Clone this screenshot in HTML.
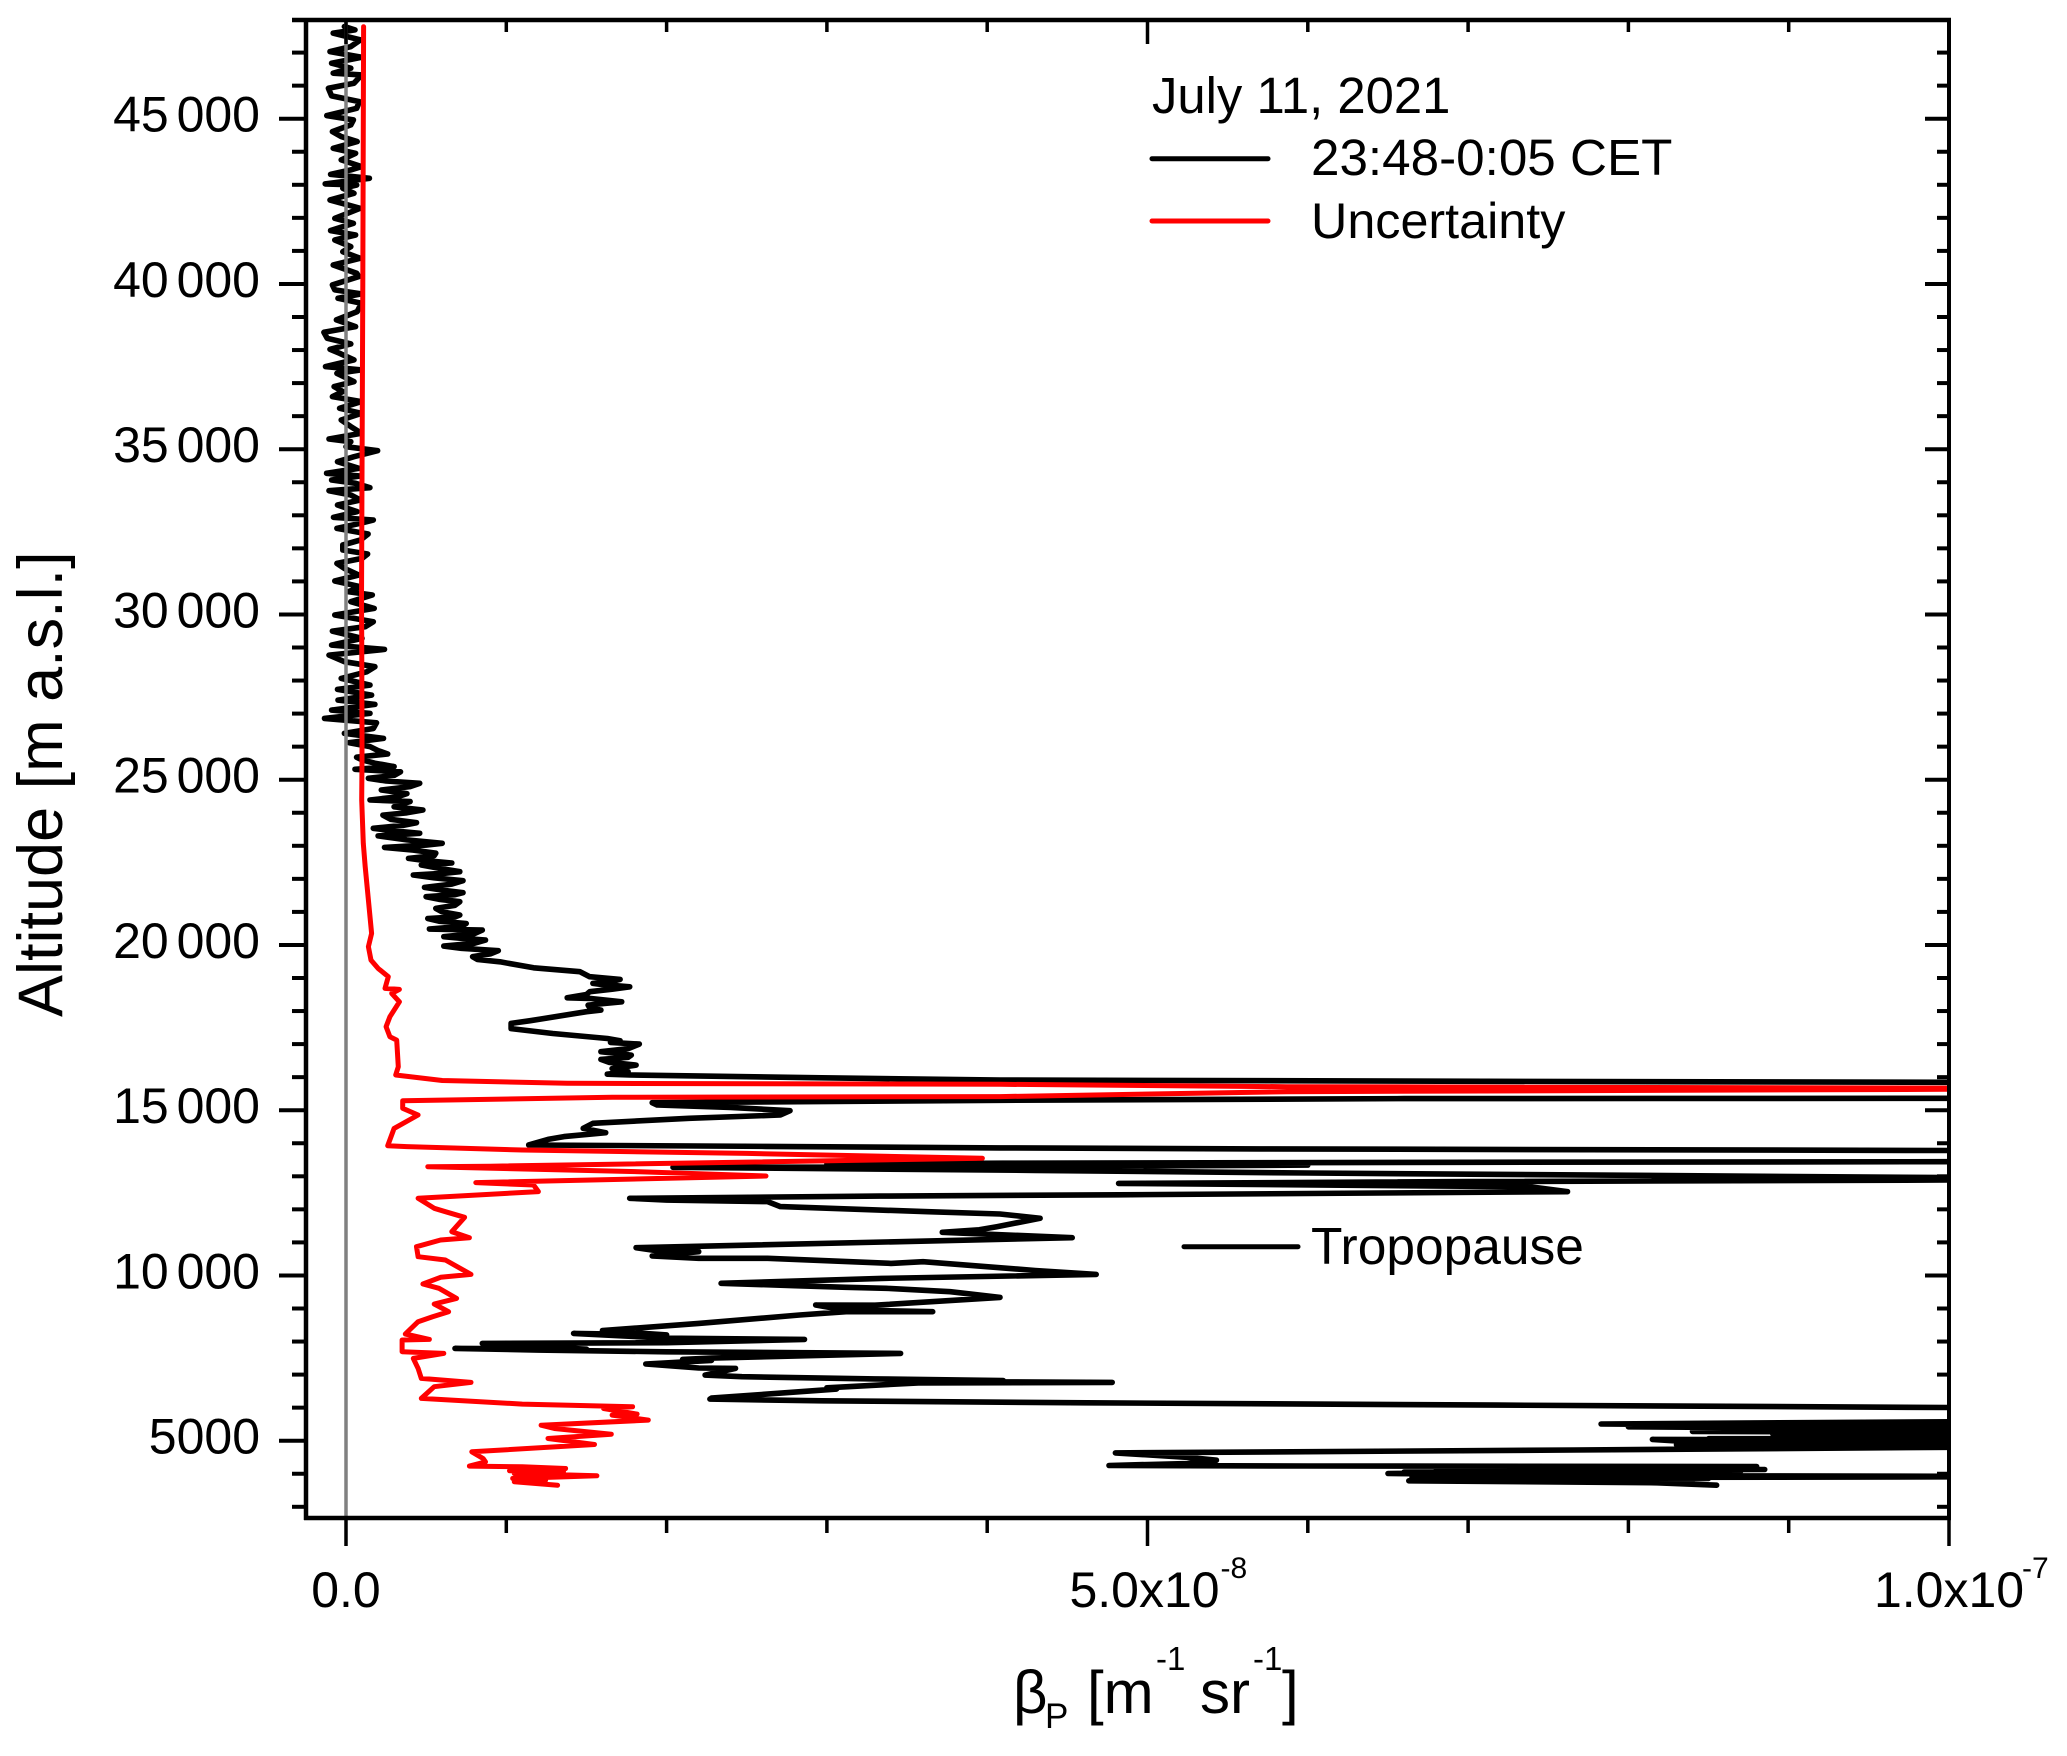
<!DOCTYPE html>
<html lang="en">
<head>
<meta charset="utf-8">
<title>Backscatter profile</title>
<style>
html,body{margin:0;padding:0;background:#fff;}
#wrap{width:2067px;height:1756px;position:relative;overflow:hidden;}
svg{display:block;}
text{font-family:"Liberation Sans",Arial,sans-serif;fill:#000;}
</style>
</head>
<body>
<div id="wrap">
<svg id="chart" width="2067" height="1756" viewBox="0 0 2067 1756">
<defs><clipPath id="plotClip"><rect x="306" y="20" width="1643" height="1498"/></clipPath></defs>
<g id="series" clip-path="url(#plotClip)"></g>
<g id="axes"></g>
<g id="labels"></g>

<text x="62" y="1017" font-size="63" transform="rotate(-90 62 1017)">Altitude [m a.s.l.]</text>

<g>
<text x="1013" y="1713" font-size="60">β</text>
<text x="1045" y="1728" font-size="35">P</text>
<text x="1087" y="1713" font-size="60">[m</text>
<text x="1156" y="1670" font-size="33">-1</text>
<text x="1200" y="1713" font-size="60">sr</text>
<text x="1253" y="1670" font-size="33">-1</text>
<text x="1282" y="1713" font-size="60">]</text>
</g>

<g>
<text x="1152" y="113" font-size="50.8">July 11, 2021</text>
<line x1="1152" y1="158.7" x2="1268" y2="158.7" stroke="#000" stroke-width="5" stroke-linecap="round"/>
<text x="1311" y="175" font-size="51.2">23:48-0:05 CET</text>
<line x1="1152" y1="221" x2="1268" y2="221" stroke="#f00" stroke-width="5" stroke-linecap="round"/>
<text x="1311" y="238" font-size="50.3">Uncertainty</text>
</g>

<g>
<line x1="1184" y1="1246.7" x2="1298" y2="1246.7" stroke="#000" stroke-width="5" stroke-linecap="round"/>
<text x="1311" y="1264" font-size="51.5">Tropopause</text>
</g>
</svg>
</div>
<script>
// Axis ticks and labels (beta in units of 1e-8 m-1 sr-1, altitude in m)
var xMajorTicks = [0, 5, 10];
var xMinorTicks = [1, 2, 3, 4, 6, 7, 8, 9];
var xTickLabels = ["0.0", "5.0x10", "1.0x10"];
var xTickExponents = ["", "-8", "-7"];
var yMajorTicks = [5000, 10000, 15000, 20000, 25000, 30000, 35000, 40000, 45000];
var yTickLabels = ["5000", "10 000", "15 000", "20 000", "25 000", "30 000", "35 000", "40 000", "45 000"];
var yMinorTicks = [3000, 4000, 6000, 7000, 8000, 9000, 11000, 12000, 13000, 14000, 16000, 17000, 18000, 19000, 21000, 22000, 23000, 24000, 26000, 27000, 28000, 29000, 31000, 32000, 33000, 34000, 36000, 37000, 38000, 39000, 41000, 42000, 43000, 44000, 46000, 47000];

// Measured profile: [beta, altitude]
var profileBeta = [
[8.55,3655],[8.18,3725],[6.63,3786],[8.4,3810],[6.65,3835],[8.5,3860],[6.65,3880],[8.9,3895],[11,3915],[8.0,3945],[6.5,4007],[8.6,4030],[6.6,4050],[8.7,4075],[6.8,4095],[8.85,4130],[7.0,4150],[8.8,4175],[7.2,4195],[8.8,4220],[6.0,4235],[4.76,4250],
[5.25,4310],[5.43,4410],[5.27,4490],[4.8,4630],[7.66,4720],[10,4800],[11,4830],[8.3,4880],[11,4900],[8.7,4930],[11,4960],[8.3,4990],[8.15,5040],[9.5,5025],[8.5,5060],[11,5070],[9.0,5120],[11,5170],[8.9,5210],[11,5240],[8.4,5280],[11,5320],[8.0,5420],[10,5450],[7.83,5505],[11,5605],
[11,5990],[10,6005],[7.18,6076],[4.62,6147],[2.97,6207],[2.27,6258],[2.28,6290],[3.06,6560],[3.0,6600],[3.57,6750],[4.78,6764],[3.57,6790],[4.1,6820],[3.3,6870],[2.47,6936],[2.24,6986],[2.43,7188],[2.2,7200],[1.87,7320],[2.28,7430],[2.1,7460],[2.28,7500],[3.46,7642],[2.0,7690],[1.2,7740],[0.68,7793],[1.5,7770],[1.17,7844],[0.85,7945],[2.0,7965],[2.86,8066],[2.0,8100],[1.42,8248],[2.0,8200],[1.6,8330],[2.2,8550],[2.83,8803],[3.12,8903],[3.66,8903],[3.1,8960],[2.93,9105],[3.3,9100],[4.08,9337],[3.77,9509],[3.37,9610],[3.12,9640],[2.8,9690],[2.34,9761],[3.34,9912],[4.68,10033],[4.3,10150],[3.6,10417],[3.4,10366],[2.63,10518],[2.2,10518],[1.91,10588],[2.2,10720],[1.95,10740],[1.81,10840],[4.53,11143],[3.72,11305],[3.95,11380],[4.06,11476],[4.33,11729],[4.08,11860],[3.63,11930],[2.71,12082],[2.63,12233],[2.0,12280],[1.77,12334],[3.33,12400],[4.82,12440],[7.62,12534],[7.38,12685],[4.82,12786],[7.0,12840],[10,12887],[11,12895],
[11,12930],[10,12960],[6.0,13100],[4.3,13180],[2.04,13271],[4.08,13290],[6,13340],[3,13370],[4.1,13395],[7,13425],[10,13442],[11,13450],
[11,13760],[10,13780],[5.7,13830],[4.08,13860],[2.62,13905],[1.14,13947],[1.26,14118],[1.36,14200],[1.62,14320],[1.48,14450],[1.54,14603],[2.14,14754],[2.71,14855],[2.77,14986],[2.4,15086],[1.94,15157],[1.91,15228],[4.08,15300],[6.6,15350],[10,15359],[11,15370],
[11,15835],[10,15843],[7.1,15875],[4.08,15914],[2.97,15980],[1.77,16065],[1.63,16090],[1.76,16163],[1.66,16260],[1.81,16364],[1.64,16450],[1.59,16536],[1.76,16600],[1.78,16667],[1.59,16770],[1.76,16860],[1.83,17000],[1.65,17050],[1.71,17100],[1.63,17170],[1.29,17320],[1.03,17470],[1.03,17625],[1.15,17707],[1.5,17980],[1.59,18030],[1.52,18100],[1.51,18180],[1.62,18230],[1.72,18280],[1.52,18383],[1.38,18400],[1.5,18500],[1.52,18584],[1.66,18660],[1.77,18735],[1.6,18800],[1.54,18836],[1.66,18900],[1.71,18958],[1.52,19038],[1.46,19190],[1.17,19310],[0.96,19490],[0.82,19560],[0.79,19644],[0.9,19730],[0.95,19825],[0.72,19900],[0.61,19966],[0.8,20050],[0.87,20148],[0.72,20200],[0.61,20250],[0.8,20340],[0.85,20450],[0.52,20480],[0.72,20560],[0.75,20650],[0.58,20720],[0.51,20800],[0.68,20850],[0.71,20905],[0.6,21000],[0.56,21107],[0.68,21200],[0.71,21310],[0.58,21380],[0.5,21460],[0.68,21520],[0.73,21580],[0.6,21660],[0.49,21742],[0.66,21840],[0.73,21944],[0.55,22030],[0.42,22116],[0.62,22170],[0.71,22217],[0.58,22320],[0.47,22418],[0.66,22480],[0.5,22550],[0.39,22620],[0.55,22700],[0.56,22780],[0.42,22870],[0.24,22953],[0.5,23020],[0.6,23075],[0.38,23180],[0.2,23300],[0.46,23377],[0.3,23450],[0.17,23530],[0.36,23620],[0.44,23700],[0.28,23800],[0.23,23930],[0.38,24000],[0.48,24083],[0.3,24180],[0.36,24280],[0.4,24336],[0.15,24386],[0.32,24480],[0.38,24580],[0.22,24689],[0.4,24790],[0.46,24890],[0.25,24960],[0.14,25042],[0.3,25130],[0.34,25240],[0.056,25314],[0.3,25395],[0.18,25500],[0.1,25600],[0.066,25680],[0.26,25778],[0.2,25880],[0.15,26000],[0.02,26120],
[0.234,26249],[-0.01,26400],[0.17,26550],[0.19,26723],[-0.134,26854],[0.15,27005],[-0.09,27106],[0.18,27278],[-0.05,27409],[0.16,27560],[-0.053,27732],[0.15,27863],[-0.03,28065],[0.13,28266],[0.18,28418],[-0.01,28570],[-0.106,28771],[0.24,28943],[-0.09,29074],[0.1,29276],[-0.085,29497],[0.12,29629],[0.17,29780],[-0.07,29982],[0.176,30184],[0.03,30385],[0.164,30587],[0.015,30688],[0.09,30840],[-0.07,31011],[0.08,31193],[-0.01,31394],[-0.057,31546],[0.1,31697],[0.135,31829],[-0.02,31949],[-0.02,32101],[0.09,32252],[0.138,32434],[-0.057,32605],[0.09,32757],[0.17,32857],[-0.078,32938],[0.07,33110],[-0.053,33311],[0.09,33463],[0.03,33614],[-0.106,33745],[0.149,33836],[0.06,33967],[-0.09,34068],[0.09,34190],[-0.121,34270],[0.08,34421],[-0.053,34623],[0.05,34774],[0.197,34956],[0.0,35077],[0.03,35228],[-0.106,35309],[0.096,35481],[0.03,35683],[-0.03,35885],[0.096,36086],[-0.04,36238],[0.096,36440],[-0.085,36591],[-0.02,36742],[-0.074,36893],[0.05,37045],[-0.057,37297],[0.096,37398],[-0.128,37499],[0.05,37701],[-0.04,37902],[-0.1,38024],[0.03,38185],[-0.117,38357],[-0.138,38538],[0.06,38710],[-0.06,38911],[0.07,39164],[0.096,39416],[-0.05,39567],[0.096,39699],[-0.07,39820],[-0.085,39971],[0.08,40223],[0.067,40322],
[-0.08,40574],[0.088,40776],[-0.02,40977],[0.03,41129],[-0.07,41330],[0.06,41482],[-0.096,41613],[0.046,41835],[-0.07,41986],[0.01,42138],[0.088,42289],[-0.1,42541],[0.05,42743],[-0.02,42894],[0.067,42995],[-0.13,43026],[0.146,43197],[-0.096,43318],[0.03,43450],[0.098,43550],[-0.03,43752],[0.06,43954],[-0.08,44105],[0.07,44307],[-0.03,44459],[-0.085,44610],[0.03,44812],[0.046,44963],[-0.12,45094],[0.067,45316],[0.083,45518],[-0.09,45689],[-0.11,45921],[0.05,46073],[0.098,46325],[-0.08,46376],[0.03,46527],[-0.09,46678],[0.098,46860],[-0.1,47031],[0.03,47183],[0.09,47385],[-0.08,47586],[0.056,47687],[-0.01,47788]
];

// Uncertainty profile: [beta, altitude]
var uncertaintyBeta = [
[1.32,3655],[1.05,3755],[1.245,3806],[1.04,3856],[1.565,3937],[1.05,4008],[1.357,4058],[1.02,4088],[1.37,4160],[1.1,4210],[0.77,4230],[0.87,4360],[0.855,4460],[0.785,4663],[1.55,4885],[1.26,5067],[1.655,5198],[1.3,5370],[1.217,5470],[1.886,5622],[1.66,5775],[1.816,5804],[1.607,5975],[1.788,6026],[1.1,6106],[0.47,6280],[0.55,6633],[0.78,6764],[0.47,6885],[0.45,7188],[0.42,7491],[0.61,7642],[0.35,7693],[0.35,8046],[0.52,8066],[0.37,8227],[0.45,8601],[0.54,8752],[0.64,8903],[0.55,9136],[0.69,9307],[0.58,9610],[0.48,9741],[0.59,9943],[0.78,10033],[0.62,10467],[0.45,10568],[0.44,10871],[0.59,11073],[0.77,11143],[0.66,11325],[0.74,11759],[0.62,11930],[0.55,12031],[0.45,12334],[1.2,12536],[1.17,12738],[0.81,12808],[2.62,13008],[1.83,13140],[0.51,13291],[0.9,13305],[3.97,13544],[2.5,13694],[1.1,13795],[0.38,13900],[0.26,13926],[0.3,14450],[0.45,14855],[0.354,15056],[0.354,15288],[1.66,15390],[4.08,15410],[5.87,15560],[10,15632],[11,15640],
[11,15660],[10,15670],[5.87,15712],[4.08,15783],[1.38,15813],[0.6,15900],[0.31,16065],[0.326,16314],[0.316,17121],[0.274,17222],[0.25,17525],[0.274,17828],[0.333,18281],[0.285,18534],[0.333,18655],[0.243,18685],[0.264,19038],[0.2,19290],[0.156,19543],[0.14,19946],[0.16,20350],[0.14,21360],[0.12,22368],[0.108,23075],[0.098,24386],[0.1,25597],[0.1,26400],[0.098,29431],[0.097,30440],[0.105,40000],[0.11,47785]
];

var SVGNS = "http://www.w3.org/2000/svg";
function xScale(v){ return 346 + v * 160.3; }
function yScale(a){ return 1440.7 - (a - 5000) * 0.03305; }

var seriesGroup = document.getElementById("series");
var axesGroup = document.getElementById("axes");
var labelGroup = document.getElementById("labels");

function pathFrom(points){
  var parts = [];
  for (var i = 0; i < points.length; i++){
    parts.push((i ? "L" : "M") + xScale(points[i][0]).toFixed(1) + " " + yScale(points[i][1]).toFixed(1));
  }
  return parts.join(" ");
}
function makePath(points, colour, width){
  var p = document.createElementNS(SVGNS, "path");
  p.setAttribute("d", pathFrom(points));
  p.setAttribute("fill", "none");
  p.setAttribute("stroke", colour);
  p.setAttribute("stroke-width", width);
  p.setAttribute("stroke-linejoin", "round");
  p.setAttribute("stroke-linecap", "round");
  seriesGroup.appendChild(p);
  return p;
}
var blackLine = makePath(profileBeta, "#000", 5.6);


var redLine = makePath(uncertaintyBeta, "#f00", 5);



function makeLine(x1, y1, x2, y2, colour, width){
  var l = document.createElementNS(SVGNS, "line");
  l.setAttribute("x1", x1);
  l.setAttribute("y1", y1);
  l.setAttribute("x2", x2);
  l.setAttribute("y2", y2);
  l.setAttribute("stroke", colour);
  l.setAttribute("stroke-width", width);
  axesGroup.appendChild(l);
  return l;
}
var zeroLine = makeLine(xScale(0), 20, xScale(0), 1518, "#808080", 3.5);



var frameLeft = 306, frameRight = 1949, frameTop = 20, frameBottom = 1518;
var edgeLeft = makeLine(frameLeft, frameTop - 2, frameLeft, frameBottom + 2, "#000", 4.5);


var edgeRight = makeLine(frameRight, frameTop - 2, frameRight, frameBottom + 2, "#000", 4);


var edgeTop = makeLine(frameLeft - 14, frameTop, frameRight + 2, frameTop, "#000", 4.5);


var edgeBottom = makeLine(frameLeft - 2, frameBottom, frameRight + 2, frameBottom, "#000", 4.5);



function drawXTick(v, outer, inner){
  var x = xScale(v);
  var b = makeLine(x, frameBottom, x, frameBottom + outer, "#000", 3.5);
  
  
  var t = makeLine(x, frameTop, x, frameTop + inner, "#000", 3.5);
  
  
}
function drawYTick(a, outer, inner){
  var y = yScale(a);
  var l = makeLine(frameLeft - outer, y, frameLeft, y, "#000", 4);
  
  
  var r = makeLine(frameRight - inner, y, frameRight, y, "#000", 4);
  
  
}
xMajorTicks.forEach(function(v){ drawXTick(v, 28, 24); });
xMinorTicks.forEach(function(v){ drawXTick(v, 15, 12); });
yMajorTicks.forEach(function(a){ drawYTick(a, 27, 24); });
yMinorTicks.forEach(function(a){ drawYTick(a, 14, 12); });

function makeText(content, x, y, size, anchor){
  var t = document.createElementNS(SVGNS, "text");
  t.setAttribute("x", x);
  t.setAttribute("y", y);
  t.setAttribute("font-size", size);
  t.setAttribute("text-anchor", anchor);
  t.textContent = content;
  labelGroup.appendChild(t);
  return t;
}
yMajorTicks.forEach(function(a, i){
  var t = makeText(yTickLabels[i], 260, yScale(a) + 13, 50, "end");
  t.setAttribute("style", "word-spacing:-6px");
  
  
});
xMajorTicks.forEach(function(v, i){
  var t = makeText(xTickLabels[i], xScale(v) - (i === 1 ? 3 : 0), 1607, 50, "middle");
  
  
  if (xTickExponents[i]) {
    var e = makeText(xTickExponents[i], xScale(v) + 73, 1578, 30, "start");
    
    
  }
});
</script>
</body>
</html>
